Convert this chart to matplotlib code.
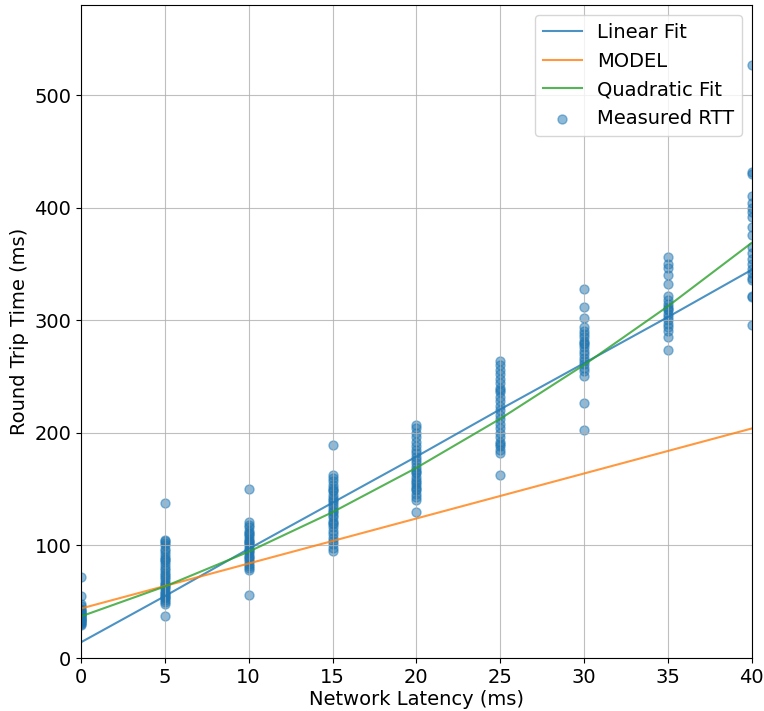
import numpy as np
import matplotlib.pyplot as plt

plt.rcParams['font.size'] = 14

latency = [0, 5, 10, 15, 20, 25, 30, 35, 40]

# measured round trip times per latency setting
rtt_0 = [72, 55, 48, 46, 44, 43, 42, 41, 40, 39, 38, 38, 37, 36, 36, 35, 34, 34, 33, 32, 31, 30, 29]
rtt_5 = [138, 105, 104, 102, 100, 97, 95, 92, 90, 88, 87, 85, 83, 80, 78, 76, 74, 72, 70, 68, 66,
         65, 63, 62, 60, 58, 57, 55, 54, 53, 52, 50, 48, 37]
rtt_10 = [150, 121, 118, 116, 113, 111, 110, 108, 106, 104, 103, 102, 100, 98, 96, 95, 93, 91,
          90, 88, 86, 84, 82, 80, 78, 56]
rtt_15 = [189, 163, 160, 157, 154, 151, 149, 148, 145, 142, 140, 139, 136, 133, 131, 130, 127,
          125, 122, 120, 119, 116, 113, 110, 107, 104, 101, 98, 95]
rtt_20 = [207, 204, 200, 196, 192, 188, 185, 182, 179, 176, 173, 170, 167, 165, 164, 161, 158,
          156, 155, 152, 150, 149, 146, 143, 140, 130]
rtt_25 = [264, 260, 256, 252, 248, 244, 240, 238, 236, 232, 228, 224, 220, 216, 212, 208, 204,
          200, 196, 192, 190, 188, 185, 182, 163]
rtt_30 = [328, 312, 302, 294, 291, 288, 285, 282, 280, 279, 276, 273, 270, 267, 264, 261, 258,
          255, 251, 227, 203]
rtt_35 = [356, 350, 347, 340, 332, 322, 318, 315, 312, 310, 309, 306, 303, 300, 297, 294, 291,
          285, 274]
rtt_40 = [527, 432, 430, 411, 404, 400, 396, 392, 383, 376, 365, 360, 355, 350, 346, 342, 338,
          336, 322, 321, 296]

samples = [rtt_0, rtt_5, rtt_10, rtt_15, rtt_20, rtt_25, rtt_30, rtt_35, rtt_40]

# line values at each latency
linear_fit = [14, 55, 97, 138, 179, 221, 262, 303, 345]
model = [44, 64, 84, 104, 124, 144, 164, 184, 204]
quad_fit = [37, 63.6, 94.5, 129.6, 169, 212.6, 260.5, 312.6, 369]

x_meas = np.concatenate([[l] * len(s) for l, s in zip(latency, samples)])
y_meas = np.concatenate(samples)

fig = plt.figure(figsize=(7.64, 7.11), dpi=100)
ax = fig.add_axes([0.106, 0.0745, 0.878, 0.918])

ax.plot(latency, linear_fit, alpha=0.8, label="Linear Fit")
ax.plot(latency, model, alpha=0.8, label="MODEL")
ax.plot(latency, quad_fit, alpha=0.8, label="Quadratic Fit")
ax.scatter(x_meas, y_meas, alpha=0.5, s=42, label="Measured RTT")

ax.set_xlim(0, 40)
ax.set_ylim(0, 580)
ax.set_xlabel("Network Latency (ms)", labelpad=2)
ax.set_ylabel("Round Trip Time (ms)")
ax.grid(True, alpha=0.8)
ax.legend(loc="upper right")

fig.savefig("out.png")
